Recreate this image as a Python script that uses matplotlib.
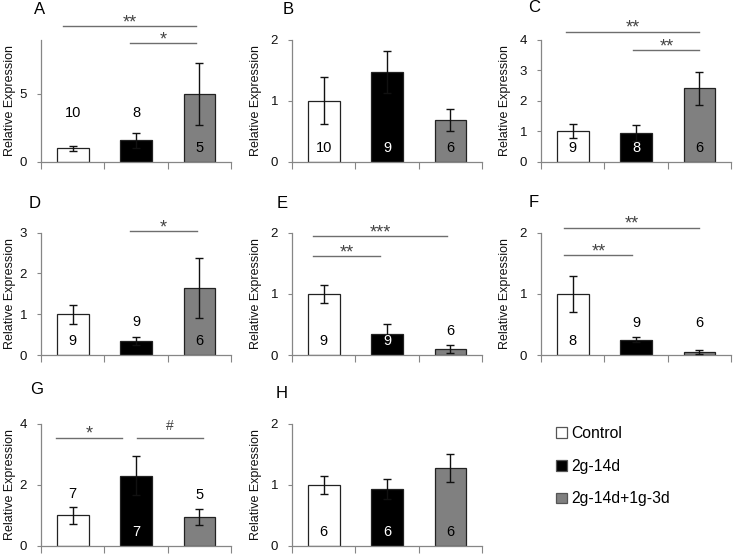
import matplotlib
matplotlib.use('Agg')
from matplotlib import pyplot as plt
from matplotlib.patches import Patch

plt.rcParams['font.family'] = ['Liberation Sans', 'DejaVu Sans']

groups = ['Control', '2g-14d', '2g-14d+1g-3d']
colors = ['white', 'black', '#808080']
num_colors = ['black', 'white', 'black']

# mean relative expression, error (SEM) and n per group, panel by panel
means = {
    'A': [1.0, 1.6, 5.0],
    'B': [1.0, 1.47, 0.68],
    'C': [1.0, 0.96, 2.4],
    'D': [1.0, 0.35, 1.64],
    'E': [1.0, 0.35, 0.10],
    'F': [1.0, 0.25, 0.045],
    'G': [1.0, 2.3, 0.95],
    'H': [1.0, 0.93, 1.27],
}
errs = {
    'A': [0.2, 0.55, 2.25],
    'B': [0.38, 0.34, 0.18],
    'C': [0.23, 0.26, 0.55],
    'D': [0.23, 0.1, 0.74],
    'E': [0.15, 0.16, 0.06],
    'F': [0.29, 0.04, 0.035],
    'G': [0.27, 0.63, 0.27],
    'H': [0.15, 0.16, 0.23],
}
ns = {
    'A': [10, 8, 5],
    'B': [10, 9, 6],
    'C': [9, 8, 6],
    'D': [9, 9, 6],
    'E': [9, 9, 6],
    'F': [8, 9, 6],
    'G': [7, 7, 5],
    'H': [6, 6, 6],
}
ymax = {'A': 9, 'B': 2, 'C': 4, 'D': 3, 'E': 2, 'F': 2, 'G': 4, 'H': 2}
yticks = {'A': [0, 5], 'B': [0, 1, 2], 'C': [0, 1, 2, 3, 4], 'D': [0, 1, 2, 3],
          'E': [0, 1, 2], 'F': [0, 1, 2], 'G': [0, 2, 4], 'H': [0, 1, 2]}

# where the n labels go: None = inside bar, number = data height above bar
n_pos = {
    'A': [3.6, 3.6, None],
    'B': [None, None, None],
    'C': [None, None, None],
    'D': [None, 0.81, None],
    'E': [None, None, 0.39],
    'F': [None, 0.53, 0.53],
    'G': [1.69, None, 1.67],
    'H': [None, None, None],
}

# significance lines: (x start, x end, height, label)
sig_lines = {
    'A': [(0.35, 2.45, 10.0, '**'), (1.4, 2.45, 8.75, '*')],
    'C': [(0.4, 2.5, 4.26, '**'), (1.46, 2.5, 3.65, '**')],
    'D': [(1.4, 2.46, 3.03, '*')],
    'E': [(0.33, 2.45, 1.94, '***'), (0.33, 1.39, 1.61, '**')],
    'F': [(0.37, 2.5, 2.08, '**'), (0.37, 1.44, 1.63, '**')],
    'G': [(0.24, 1.28, 3.54, '*'), (1.51, 2.56, 3.54, '#')],
}

W, H = 734, 554
fig = plt.figure(figsize=(W / 100, H / 100), dpi=100)

col_x = [41, 292, 541]
row_bottom = [162, 355, 546]
ax_w, ax_h = 190, 122.5
label_off = [-0.132, -0.158, -0.159]
letter_xy = {'A': (40, 9), 'B': (288, 9), 'C': (534, 8), 'D': (35, 203),
             'E': (282, 203), 'F': (534, 202), 'G': (37, 389), 'H': (282, 393)}
spine_c = '#868686'

for k, p in enumerate('ABCDEFGH'):
    r, c = divmod(k, 3)
    x0, yb = col_x[c], row_bottom[r]
    ax = fig.add_axes([x0 / W, 1 - yb / H, ax_w / W, ax_h / H])
    xs = [0.5, 1.5, 2.5]
    ax.bar(xs, means[p], width=0.5, color=colors, edgecolor='#222222',
           linewidth=0.9, zorder=2)
    ax.errorbar(xs, means[p], yerr=errs[p], fmt='none', ecolor='#111111',
                elinewidth=1.0, capsize=2.6, capthick=1.0, zorder=3)
    ax.set_xlim(0, 3)
    ax.set_ylim(0, ymax[p])
    ax.set_xticks([0, 1, 2, 3])
    ax.set_xticklabels([])
    ax.set_yticks(yticks[p])
    ax.tick_params(axis='x', length=5, width=0.8, color=spine_c)
    ax.tick_params(axis='y', length=3, width=0.8, color=spine_c, pad=7,
                   labelsize=9.5, labelcolor='#111111')
    for s in ['top', 'right']:
        ax.spines[s].set_visible(False)
    for s in ['left', 'bottom']:
        ax.spines[s].set_color(spine_c)
        ax.spines[s].set_linewidth(0.9)
    ax.set_ylabel('Relative Expression', fontsize=9, color='#111111')
    ax.yaxis.set_label_coords(label_off[c], 0.5)

    for i, x in enumerate(xs):
        pos = n_pos[p][i]
        if pos is None:
            ax.text(x, 0.115, str(ns[p][i]), transform=ax.get_xaxis_transform(),
                    ha='center', va='center', fontsize=10.5, color=num_colors[i], zorder=4)
        else:
            ax.text(x, pos, str(ns[p][i]), ha='center', va='center',
                    fontsize=10.5, color='black', zorder=4)

    for xa, xb, yy, lab in sig_lines.get(p, []):
        ax.plot([xa, xb], [yy, yy], color='#6e6e6e', lw=1.0, clip_on=False)
        star = lab.startswith('*')
        ax.annotate(lab, ((xa + xb) / 2, yy), xytext=(0, -3.7 if star else 3.5),
                    textcoords='offset points', ha='center', va='bottom',
                    fontsize=13 if star else 10, color='#444444',
                    annotation_clip=False)

    lx, ly = letter_xy[p]
    fig.text(lx / W, 1 - ly / H, p, fontsize=12, ha='center', va='center')

handles = [Patch(facecolor=col, edgecolor='#555555', linewidth=0.9) for col in colors]
fig.legend(handles, groups, loc='upper left', bbox_to_anchor=(556 / W, 1 - 426 / H),
           frameon=False, fontsize=11.3, handlelength=0.68, handleheight=0.68,
           handletextpad=0.32, labelspacing=1.13, borderpad=0, borderaxespad=0)

fig.savefig('out.png', dpi=100)
